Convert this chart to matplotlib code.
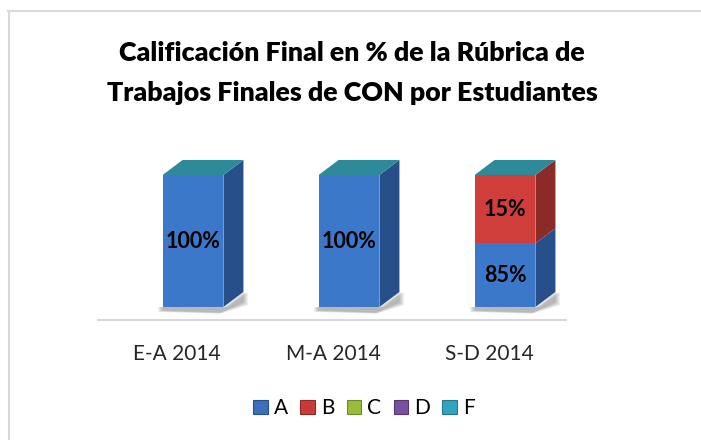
import matplotlib.pyplot as plt
import matplotlib.transforms as mtransforms
from matplotlib.patches import Polygon, Patch

# =====================================
# DATOS
# =====================================
categorias = ["E-A 2014", "M-A 2014", "S-D 2014"]
series = ["A", "B", "C", "D", "F"]
valores_A = [100, 100, 85]
valores_B = [0, 0, 15]
valores_C = [0, 0, 0]
valores_D = [0, 0, 0]
valores_F = [0, 0, 0]
valores = [valores_A, valores_B, valores_C, valores_D, valores_F]

titulo = "Calificación Final en % de la Rúbrica de\nTrabajos Finales de CON por Estudiantes"

# colores (frente, lateral, leyenda)
col_frente = ["#3B78C9", "#CF3E3A", "#9BBB3A", "#7A4FA0", "#31A5C0"]
col_lateral = ["#27508A", "#8C2A28", "#6C8A25", "#553670", "#22798E"]
col_leyenda = ["#3A70BC", "#C83B38", "#9BBB3A", "#7A4FA0", "#31A5C0"]
col_tapa = "#2E8A99"

plt.rcParams["font.family"] = ["Lato", "DejaVu Sans"]

W, H = 701, 440
fig = plt.figure(figsize=(W / 100, H / 100), dpi=100)

# ejes en pixeles: izq 98, der 566, abajo 307, arriba 175
ax = fig.add_axes([98 / W, (H - 307) / H, (566 - 98) / W, (307 - 175) / H])
y_min, y_max = 71, 100
ax.set_xlim(-0.609, 2.391)
ax.set_ylim(y_min, y_max)
ax.axis("off")

ancho = 0.39
dx = 20 / 156                      # profundidad en unidades x
dy = 15 * (y_max - y_min) / 132    # profundidad en unidades y

x = list(range(len(categorias)))

# =====================================
# BARRAS 3D APILADAS
# =====================================
for i in x:
    base = 0
    xl = i - ancho / 2
    xr = i + ancho / 2

    # sombra suave
    for k in range(6):
        e = 0.006 * k
        sombra = Polygon(
            [(xl - e, y_min), (xr + e, y_min), (xr + dx + e, y_min + dy),
             (xr + dx + e, y_min + dy * 0.3 - e * 20), (xr - 0.02, y_min - 1.2 - e * 10),
             (xl - e, y_min - 0.8 - e * 10)],
            closed=True, facecolor="#000000", alpha=0.05, edgecolor="none",
            clip_on=False, zorder=1,
        )
        ax.add_patch(sombra)

    for s in range(len(series)):
        v = valores[s][i]
        if v <= 0:
            continue
        ax.bar(i, v, ancho, bottom=base, color=col_frente[s], edgecolor="none", zorder=3)
        lo = max(base, y_min)
        hi = base + v
        lateral = Polygon(
            [(xr, lo), (xr + dx, lo + dy), (xr + dx, hi + dy), (xr, hi)],
            closed=True, facecolor=col_lateral[s], edgecolor="none",
            clip_on=False, zorder=3,
        )
        ax.add_patch(lateral)
        ax.text(i, (lo + hi) / 2, f"{v}%", ha="center", va="center",
                fontsize=15.5, fontweight="bold", color="black", zorder=5)
        base = hi

    tapa = Polygon(
        [(xl, base), (xr, base), (xr + dx, base + dy), (xl + dx, base + dy)],
        closed=True, facecolor=col_tapa, edgecolor="none", clip_on=False, zorder=4,
    )
    ax.add_patch(tapa)

# piso
ax.plot([0, 1], [-13 / 132, -13 / 132], transform=ax.transAxes,
        color="#D9D9D9", lw=1.5, clip_on=False)

# etiquetas de categoria
trans = mtransforms.blended_transform_factory(ax.transData, ax.transAxes)
for i, c in enumerate(categorias):
    ax.text(i - 16 / 156, -47 / 132, c, transform=trans, ha="center", va="center",
            fontsize=15, color="#262626")

# titulo
lineas = titulo.split("\n")
fig.text(352 / W, 1 - 53 / H, lineas[0], ha="center", va="center",
         fontsize=19.3, fontweight="heavy", color="black")
fig.text(352 / W, 1 - 93 / H, lineas[1], ha="center", va="center",
         fontsize=19.3, fontweight="heavy", color="black")

# borde del grafico
fig.add_artist(plt.Line2D([8.5 / W, 8.5 / W], [0, 1 - 11 / H], color="#D9D9D9", lw=1.5))
fig.add_artist(plt.Line2D([8 / W, 1], [1 - 11.5 / H, 1 - 11.5 / H], color="#D9D9D9", lw=1.5))

# leyenda
handles = [Patch(facecolor=col_leyenda[s], edgecolor=col_lateral[s], lw=0.8) for s in range(len(series))]
fig.legend(handles, series, loc="center", bbox_to_anchor=(364 / W, 1 - 408 / H),
           ncol=5, frameon=False, fontsize=15, handlelength=0.68, handleheight=0.68,
           handletextpad=0.3, columnspacing=0.6)

fig.savefig("out.png", dpi=100, facecolor="white")
